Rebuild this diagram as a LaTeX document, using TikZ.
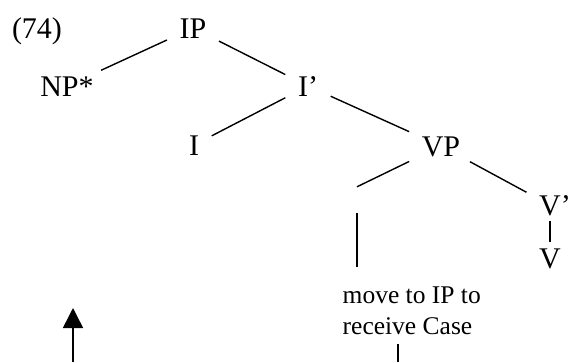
\documentclass[tikz,border=0pt]{standalone}
\usepackage{fontspec}
\setmainfont{Liberation Serif}
\usetikzlibrary{arrows.meta}

\begin{document}
\begin{tikzpicture}[x=1pt, y=-1pt, >={Triangle[width=20pt, length=20pt]}, line width=1.4pt,
  cat/.style={font=\fontsize{30}{36}\selectfont, anchor=base, inner xsep=12pt, inner ysep=5pt, text height=20pt, text depth=0pt}]

\useasboundingbox (0,0) rectangle (571,362);

% example number and the tree labels
\node[cat] (ex) at (37,38) {(74)};
\node[cat] (IP) at (193,38) {IP};
\node[cat] (NP) at (67,96) {NP*};
\node[cat] (Ibar) at (308,96) {I’};
\node[cat] (I) at (194,155) {I};
\node[cat] (VP) at (441,156) {VP};
\node[cat] (Vbar) at (550,215) {V\rlap{’}};
\node[cat] (V) at (550,268) {V};

% empty specifier of VP
\node[inner sep=0pt, minimum width=8pt, minimum height=25pt] (spec) at (357,200) {};

% note below the specifier
\node[font=\fontsize{25.5}{31}\selectfont, align=left, anchor=base west, inner xsep=0pt, inner ysep=9pt] (move) at (342,334) {move to IP to\\receive Case};

% branches
\draw (IP) -- (NP);
\draw (IP) -- (Ibar);
\draw (Ibar) -- (I);
\draw (Ibar) -- (VP);
\draw (VP) -- (spec.north);
\draw (VP) -- (Vbar);
\draw (Vbar) -- (V);
\draw[shorten >=10pt] (spec.south) -- (spec.south |- move.north);

% lines running off the bottom edge
\coordinate (cut) at (398,362);
\draw (move.south -| cut) -- (cut);
\coordinate (foot) at (73,362);
\coordinate (tip) at (73,308);
\draw[->, line width=1.5pt] (foot) -- (tip);

\end{tikzpicture}
\end{document}
